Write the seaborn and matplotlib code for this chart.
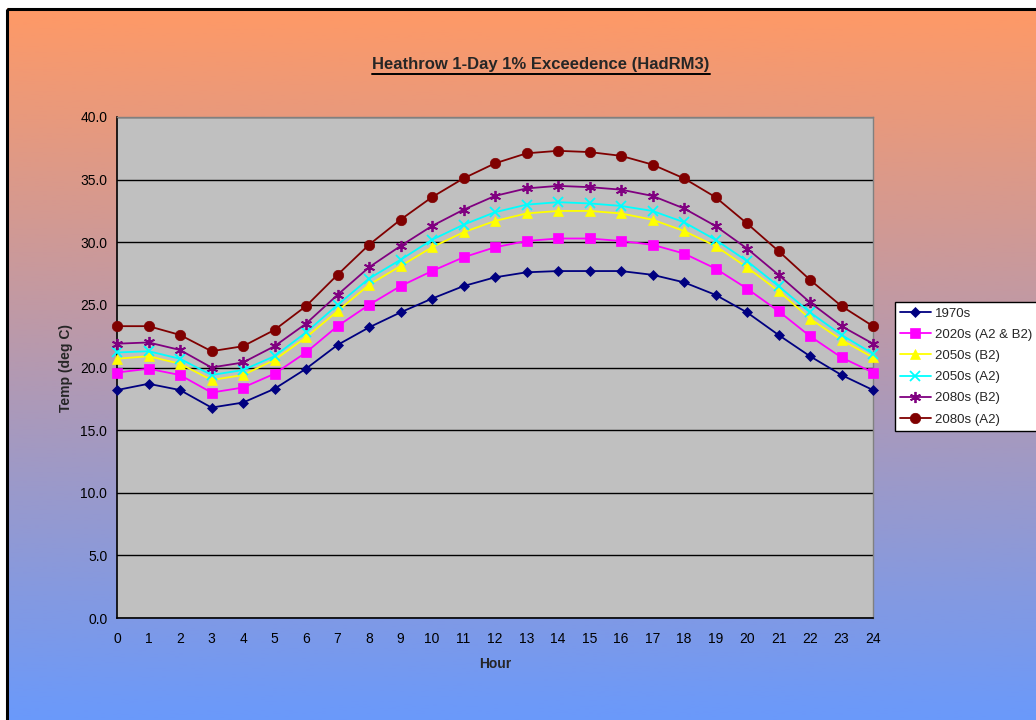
import numpy as np
import pandas as pd
import matplotlib
matplotlib.use("Agg")
import matplotlib.pyplot as plt
import seaborn as sns
from matplotlib.patches import Rectangle
from matplotlib.lines import Line2D
from matplotlib.colors import LinearSegmentedColormap

# Hourly 1-day 1% exceedence temperatures (deg C)
hours = list(range(25))
t1970 = [18.2, 18.7, 18.2, 16.8, 17.2, 18.3, 19.9, 21.8, 23.2, 24.4, 25.5, 26.5, 27.2,
         27.6, 27.7, 27.7, 27.7, 27.4, 26.8, 25.8, 24.4, 22.6, 20.9, 19.4, 18.2]
t2020 = [19.6, 19.9, 19.4, 18.0, 18.4, 19.5, 21.2, 23.3, 25.0, 26.5, 27.7, 28.8, 29.6,
         30.1, 30.3, 30.3, 30.1, 29.8, 29.1, 27.9, 26.3, 24.5, 22.5, 20.8, 19.6]
t2050b2 = [20.7, 20.9, 20.3, 19.0, 19.4, 20.6, 22.4, 24.5, 26.6, 28.1, 29.6, 30.8, 31.7,
           32.3, 32.5, 32.5, 32.3, 31.8, 30.9, 29.7, 28.0, 26.1, 23.9, 22.2, 20.8]
t2050a2 = [21.2, 21.3, 20.7, 19.4, 19.8, 20.9, 22.8, 25.0, 27.1, 28.6, 30.2, 31.4, 32.4,
           33.0, 33.2, 33.1, 32.9, 32.5, 31.6, 30.2, 28.5, 26.5, 24.4, 22.6, 21.1]
t2080b2 = [21.9, 22.0, 21.4, 20.0, 20.4, 21.7, 23.5, 25.8, 28.0, 29.7, 31.3, 32.6, 33.7,
           34.3, 34.5, 34.4, 34.2, 33.7, 32.7, 31.3, 29.5, 27.4, 25.2, 23.3, 21.9]
t2080a2 = [23.3, 23.3, 22.6, 21.3, 21.7, 23.0, 24.9, 27.4, 29.8, 31.8, 33.6, 35.1, 36.3,
           37.1, 37.3, 37.2, 36.9, 36.2, 35.1, 33.6, 31.5, 29.3, 27.0, 24.9, 23.3]

seriesNames = ["1970s", "2020s (A2 & B2)", "2050s (B2)", "2050s (A2)", "2080s (B2)", "2080s (A2)"]
seriesValues = [t1970, t2020, t2050b2, t2050a2, t2080b2, t2080a2]

# styles for each series
colors = ["#000080", "#FF00FF", "#FFFF00", "#00FFFF", "#800080", "#800000"]
markers = ["D", "s", "^", "x", (6, 2, 0), "o"]
markerSizes = [5.5, 7, 7.5, 7, 8, 7.5]

sns.set_style("white")
plt.rcParams['font.family'] = ['Liberation Sans', 'DejaVu Sans']

W, H = 1036, 720
fig = plt.figure(figsize=(W / 100, H / 100), dpi=100)
fig.patch.set_facecolor("white")

# background gradient + frame
bg = fig.add_axes([0, 0, 1, 1], zorder=0)
bg.axis("off")
cmap = LinearSegmentedColormap.from_list("bg", ["#FF9966", "#6699FF"])
grad = np.linspace(0, 1, 256).reshape(-1, 1)
bg.imshow(grad, cmap=cmap, aspect="auto", extent=(7, W + 20, H + 20, 8), zorder=0)
bg.add_patch(Rectangle((7, 8.5), W + 50, H + 50, fill=False, edgecolor="black", lw=2.2, zorder=2))
bg.set_xlim(0, W)
bg.set_ylim(H, 0)

# plot area
ax = fig.add_axes([117 / W, 1 - 618 / H, (873 - 117) / W, (618 - 117) / H], zorder=1)
ax.set_facecolor("#C0C0C0")

for name, vals, c, m, ms in zip(seriesNames, seriesValues, colors, markers, markerSizes):
    df = pd.DataFrame({"Hour": hours, "Temp": vals})
    sns.lineplot(data=df, x="Hour", y="Temp", ax=ax, color=c, marker=m, markersize=ms,
                 markeredgecolor=c, markeredgewidth=1.3 if m in ("x", (6, 2, 0)) else 0.5,
                 linewidth=1.3, label=name, clip_on=False, zorder=3)

ax.set_xlim(0, 24)
ax.set_ylim(0, 40)
ax.set_xticks(hours)
ax.set_yticks(np.arange(0, 40.1, 5))
ax.set_yticklabels([f"{v:.1f}" for v in np.arange(0, 40.1, 5)])
ax.yaxis.grid(True, color="black", linewidth=1.0)
ax.xaxis.grid(False)
ax.set_axisbelow(True)
ax.tick_params(axis="both", direction="out", length=5, width=1, colors="black",
               labelsize=10, labelcolor="black")
ax.tick_params(axis="y", pad=2)
ax.tick_params(axis="x", pad=5)
for side in ("left", "bottom"):
    ax.spines[side].set_color("black")
    ax.spines[side].set_linewidth(1.2)
for side in ("top", "right"):
    ax.spines[side].set_color("#808080")
    ax.spines[side].set_linewidth(1.0)

ax.set_xlabel("Hour", fontsize=10, fontweight="bold", labelpad=8)
ax.set_ylabel("Temp (deg C)", fontsize=10, fontweight="bold", labelpad=5)

leg = ax.legend(loc="upper left", bbox_to_anchor=(895 / W, 1 - 302 / H),
                bbox_transform=fig.transFigure, fontsize=9.5, frameon=True,
                fancybox=False, framealpha=1, edgecolor="black", borderpad=0.4,
                handlelength=2.3, handletextpad=0.35, labelspacing=0.68, borderaxespad=0)
leg.get_frame().set_linewidth(1.0)

title = fig.text(541 / W, 1 - 65 / H, "Heathrow 1-Day 1% Exceedence (HadRM3)",
                 ha="center", va="center", fontsize=12, fontweight="bold")

# underline the title
fig.canvas.draw()
bb = title.get_window_extent().transformed(fig.transFigure.inverted())
fig.add_artist(Line2D([bb.x0, bb.x1], [bb.y0 - 0.002, bb.y0 - 0.002],
                      transform=fig.transFigure, color="black", lw=1.4))

fig.savefig("out.png", dpi=100)
